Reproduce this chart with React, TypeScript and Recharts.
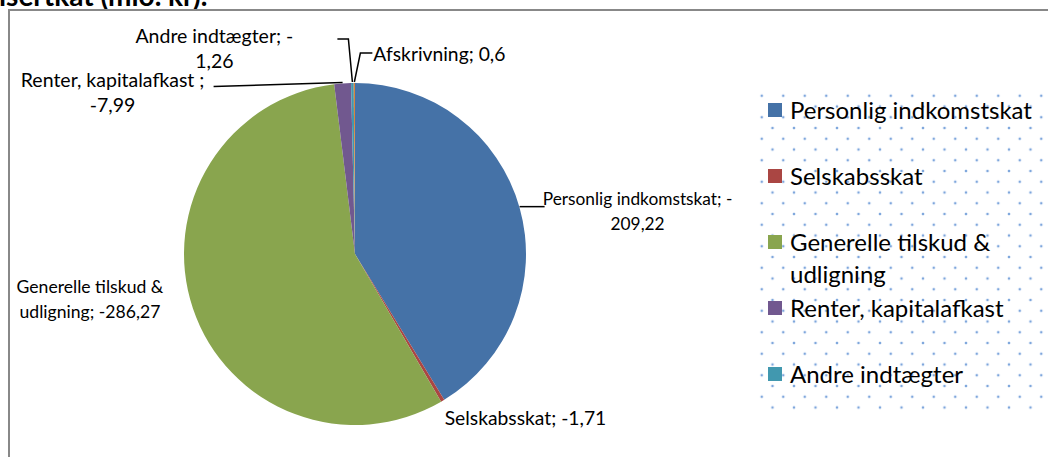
import { PieChart, Pie, Cell, Legend } from 'recharts'

// ─── Data ────────────────────────────────────────────────────────────────────

const categories = [
  'Personlig indkomstskat',
  'Selskabsskat',
  'Generelle tilskud & udligning',
  'Renter, kapitalafkast ',
  'Andre indtægter',
  'Afskrivning',
]
const values = [-209.22, -1.71, -286.27, -7.99, -1.26, 0.6]
const legendNames = categories.slice(0, 5)
const colors = ['#4572A7', '#AA4643', '#89A54E', '#71588F', '#4198AF', '#DB843D']
const titleText = 'isertkat (mio. kr).'

const data = categories.map((name, i) => ({ name, value: Math.abs(values[i]), raw: values[i] }))

// ─── Label layout (offsets from the slice's outer edge point) ───────────────

type LabelLayout = {
  tx: number
  ty: number
  anchor: 'start' | 'middle'
  maxChars: number
  size: number
  leader: number[][]
}

const labelLayout: LabelLayout[] = [
  { tx: 118, ty: -9, anchor: 'middle', maxChars: 25, size: 17.3, leader: [[0, -1], [25, -1]] },
  { tx: 2, ty: 17, anchor: 'start', maxChars: 30, size: 19.3, leader: [] },
  { tx: -103, ty: -22, anchor: 'middle', maxChars: 20, size: 17.6, leader: [] },
  { tx: -230, ty: -4, anchor: 'middle', maxChars: 23, size: 19.5, leader: [[0, -1], [-129, 3]] },
  { tx: -138, ty: -48, anchor: 'middle', maxChars: 18, size: 19.5, leader: [[0, -1], [-4, -44], [-15, -44]] },
  { tx: 19, ty: -30, anchor: 'start', maxChars: 30, size: 19.3, leader: [[0, -1], [6, -30], [18, -30]] },
]

const FONT = 'Lato, "Open Sans", sans-serif'
const RAD = Math.PI / 180

function fmt(v: number) {
  return String(v).replace('.', ',')
}

function wrapLabel(text: string, maxChars: number) {
  const tokens = text.split(/(?<=[\s-])/)
  const lines: string[] = []
  let cur = ''
  for (const t of tokens) {
    if (cur && (cur + t).trimEnd().length > maxChars) {
      lines.push(cur.trimEnd())
      cur = t
    } else {
      cur += t
    }
  }
  if (cur) lines.push(cur.trimEnd())
  return lines
}

function renderLabel(props: any) {
  const { cx, cy, midAngle, outerRadius, index } = props
  const ex = cx + outerRadius * Math.cos(-midAngle * RAD)
  const ey = cy + outerRadius * Math.sin(-midAngle * RAD)
  const lay = labelLayout[index]
  const lines = wrapLabel(`${categories[index]}; ${fmt(values[index])}`, lay.maxChars)
  const x = ex + lay.tx
  const y = ey + lay.ty
  return (
    <g key={`lbl-${index}`}>
      {lay.leader.length > 0 && (
        <polyline
          points={lay.leader.map(([dx, dy]) => `${ex + dx},${ey + dy}`).join(' ')}
          fill="none"
          stroke="#000"
          strokeWidth={1.5}
        />
      )}
      <text x={x} y={y} textAnchor={lay.anchor} fontFamily={FONT} fontSize={lay.size} fill="#000">
        {lines.map((l, i) => (
          <tspan key={i} x={x} y={y + i * 25} dominantBaseline="central">
            {l}
          </tspan>
        ))}
      </text>
    </g>
  )
}

// dotted legend fill, staggered rows like the original pattern
const dot = 'radial-gradient(circle, #7ea6dc 0.9px, rgba(255,255,255,0) 1.7px)'

function LegendContent() {
  return (
    <div
      style={{
        width: 290,
        height: 322,
        backgroundImage: `${dot}, ${dot}`,
        backgroundSize: '21.5px 21.5px, 21.5px 21.5px',
        backgroundPosition: '-6px -6px, 4.75px 4.75px',
        fontFamily: FONT,
        fontSize: 24,
        color: '#000',
        position: 'relative',
      }}
    >
      {legendNames.map((name, i) => (
        <div
          key={name}
          style={{ position: 'absolute', left: 11, top: 3 + i * 66, display: 'flex', alignItems: 'flex-start', lineHeight: '32px' }}
        >
          <span style={{ width: 14, height: 14, background: colors[i], marginTop: 9, marginRight: 8, flex: 'none' }} />
          <span style={{ width: i === 2 ? 215 : 270, whiteSpace: i === 2 ? 'normal' : 'nowrap' }}>{name.trim()}</span>
        </div>
      ))}
    </div>
  )
}

export default function App() {
  return (
    <div style={{ position: 'absolute', left: 0, top: 0, width: 1048, height: 457, overflow: 'hidden', background: '#fff' }}>
      <svg width={1048} height={20} style={{ position: 'absolute', left: 0, top: 0 }}>
        <text x={-1} y={6} fontFamily={FONT} fontWeight="bold" fontSize={28} fill="#000">
          {titleText}
        </text>
      </svg>
      <div
        style={{
          position: 'absolute',
          left: 8,
          top: 9,
          width: 1100,
          height: 500,
          borderLeft: '2px solid #888',
          borderTop: '2px solid #888',
        }}
      />
      <div style={{ position: 'absolute', left: 0, top: 0 }}>
        <PieChart width={1048} height={457} margin={{ top: 0, right: 0, bottom: 0, left: 0 }}>
          <Pie
            data={data}
            dataKey="value"
            nameKey="name"
            cx={355}
            cy={254}
            outerRadius={171}
            startAngle={90}
            endAngle={-270}
            stroke="none"
            label={renderLabel}
            labelLine={false}
            isAnimationActive={false}
          >
            {data.map((d, i) => (
              <Cell key={d.name} fill={colors[i]} />
            ))}
          </Pie>
          <Legend
            content={<LegendContent />}
            wrapperStyle={{ position: 'absolute', left: 757, top: 91, width: 290, height: 322 }}
          />
        </PieChart>
      </div>
    </div>
  )
}
